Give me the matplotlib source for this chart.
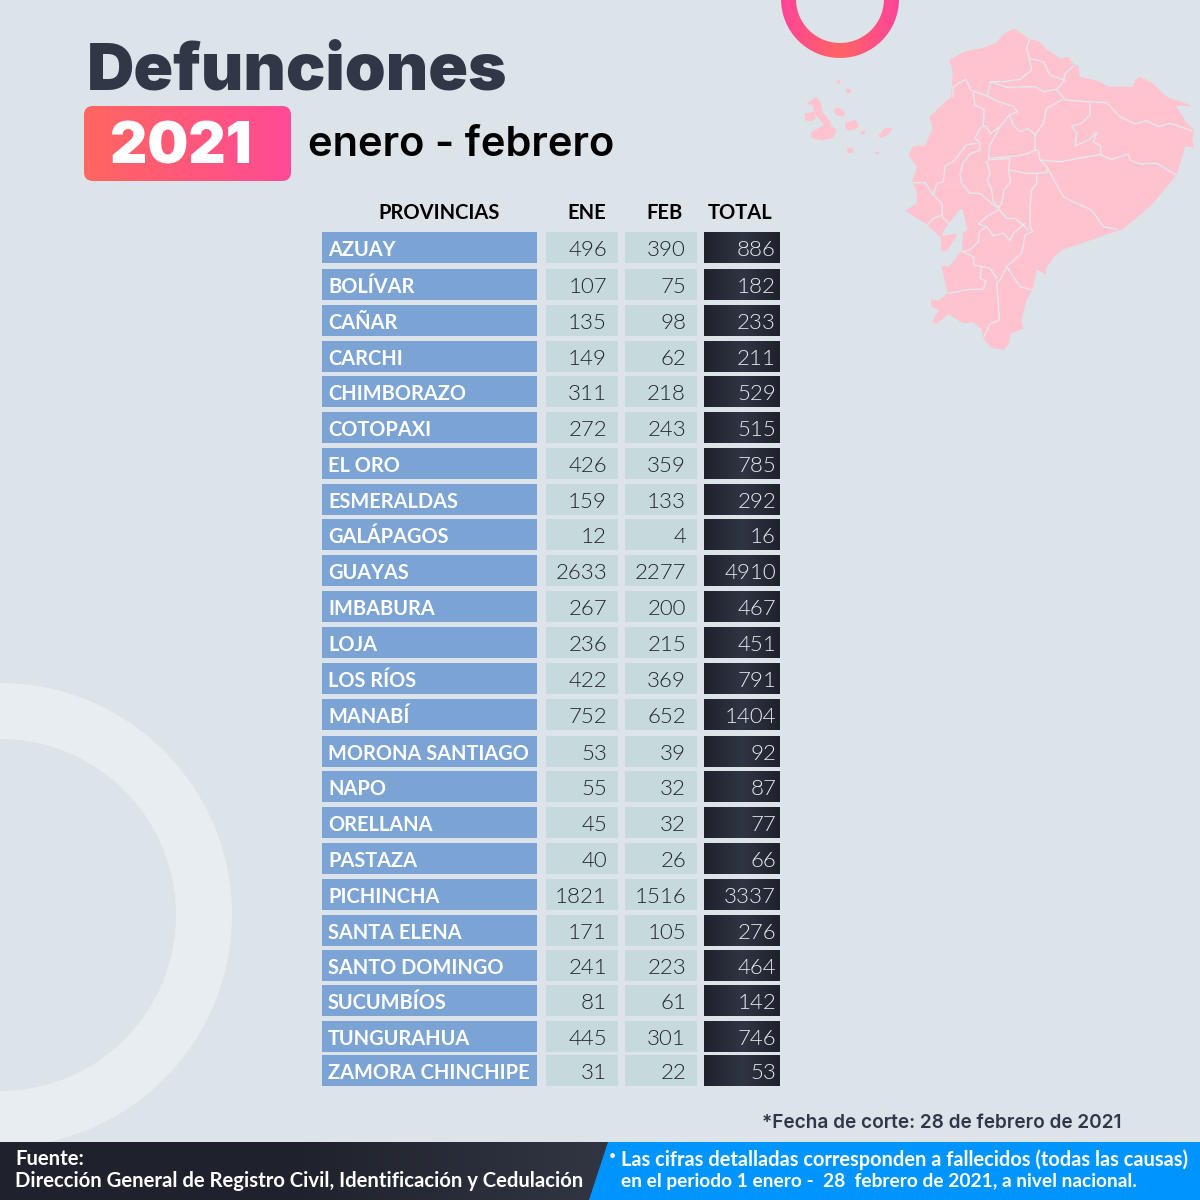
import matplotlib
matplotlib.use('Agg')
import matplotlib.pyplot as plt
import numpy as np
from matplotlib.colors import LinearSegmentedColormap
from matplotlib.patches import FancyBboxPatch, Polygon, Rectangle, Wedge

# table data
provincias = ['AZUAY', 'BOLÍVAR', 'CAÑAR', 'CARCHI', 'CHIMBORAZO', 'COTOPAXI', 'EL ORO', 'ESMERALDAS',
              'GALÁPAGOS', 'GUAYAS', 'IMBABURA', 'LOJA', 'LOS RÍOS', 'MANABÍ', 'MORONA SANTIAGO', 'NAPO',
              'ORELLANA', 'PASTAZA', 'PICHINCHA', 'SANTA ELENA', 'SANTO DOMINGO', 'SUCUMBÍOS', 'TUNGURAHUA',
              'ZAMORA CHINCHIPE']
ene = [496, 107, 135, 149, 311, 272, 426, 159, 12, 2633, 267, 236, 422, 752, 53, 55, 45, 40, 1821, 171, 241, 81, 445, 31]
feb = [390, 75, 98, 62, 218, 243, 359, 133, 4, 2277, 200, 215, 369, 652, 39, 32, 32, 26, 1516, 105, 223, 61, 301, 22]
total = [886, 182, 233, 211, 529, 515, 785, 292, 16, 4910, 467, 451, 791, 1404, 92, 87, 77, 66, 3337, 276, 464, 142, 746, 53]
encabezados = ['PROVINCIAS', 'ENE', 'FEB', 'TOTAL']

BG = '#dce3e9'
NAVY = '#303746'
FONT = 'Lato'
FONT_TIT = 'Inter'

# top of each table row, the rows in the picture are not evenly spaced
y_filas = [232, 269, 305, 341, 376, 412, 448, 484, 519, 555, 591, 627, 663, 699, 736, 771, 807, 843, 879, 915,
           950, 985, 1021, 1055]

# map outline in zoomed px (x / 3 + 780, y / 3)
contorno = [(700,88),(720,100),(745,118),(775,125),(800,150),(840,178),(865,172),(880,195),(895,200),(897,232),
            (950,243),(985,262),(1060,262),(1068,240),(1080,232),(1115,250),(1160,292),(1230,317),(1185,315),
            (1200,340),(1215,365),(1240,390),(1235,420),(1240,440),(1215,435),(1188,525),(1115,612),(1030,685),
            (845,748),(825,765),(795,805),(797,822),(770,805),(755,870),(738,900),(722,960),(728,985),(690,1000),
            (685,1030),(670,1048),(632,1040),(612,1015),(605,985),(580,965),(550,968),(505,940),(468,970),
            (458,965),(478,930),(455,918),(455,900),(475,905),(505,880),(490,815),(485,800),(510,800),(540,760),
            (548,755),(550,700),(565,690),(560,672),(548,625),(540,625),(520,650),(490,690),(482,710),(440,670),
            (405,650),(380,632),(412,610),(412,575),(398,545),(413,500),(388,465),(400,440),(437,438),(460,385),
            (450,352),(515,290),(520,215),(510,180),(560,155),(610,145),(650,130),(670,105)]
islas = [[(485,710),(530,703),(510,735),(500,750),(485,752)],
         [(83,310),(108,293),(122,310),(125,335),(150,365),(150,378),(168,390),(158,412),(125,420),(95,412),(95,398),(135,375),(105,340),(100,315)],
         [(75,342),(100,338),(105,355),(95,362),(78,360)],
         [(162,330),(175,325),(192,335),(192,348),(170,345)],
         [(198,368),(225,362),(235,375),(225,388),(205,390),(197,380)],
         [(297,408),(318,385),(335,385),(325,402),(305,412)],
         [(200,445),(215,445),(215,455),(203,455)],
         [(170,240),(176,240),(176,250),(170,250)],
         [(198,268),(210,268),(210,276),(198,276)],
         [(285,455),(295,455),(295,460),(285,460)],
         [(243,394),(251,394),(251,400),(243,400)]]
limites = [[(520,262),(535,250),(558,238),(572,270),(622,288),(655,305),(698,318),(712,335),(688,345),(660,380),(632,400),(618,378),(604,380),(584,415),(598,425),(600,450),(570,462),(548,490),(540,525),(545,550),(570,580),(600,580),(640,615),(655,620)],
           [(622,288),(632,245),(670,245),(720,238),(755,210),(748,175),(740,145),(748,120)],
           [(750,175),(790,185),(810,225),(850,240),(855,222),(880,198)],
           [(632,245),(680,262),(765,260),(790,275),(830,268),(855,240)],
           [(830,268),(855,300),(920,305),(930,305),(980,308),(1020,350),(1065,372),(1100,362),(1135,380),(1170,370),(1235,392)],
           [(930,310),(930,345),(905,370),(875,378),(890,400),(885,438),(925,420),(950,398),(940,425),(962,438),(962,465),(995,478),(1045,462),(1050,480),(1080,492),(1130,490),(1188,525)],
           [(848,298),(800,325),(790,370),(765,405),(765,450),(775,452),(780,480),(840,485),(962,463)],
           [(688,345),(700,375),(720,395),(745,385),(765,405)],
           [(660,380),(630,435),(625,475),(660,472),(710,468),(745,460),(765,450)],
           [(625,480),(690,475),(685,510),(692,545),(672,570),(665,610),(655,625),(640,605),(635,570),(622,540),(630,520),(620,485)],
           [(780,480),(800,500),(800,517),(770,520),(735,520),(700,512),(688,510)],
           [(800,500),(825,545),(850,590),(880,605),(935,630),(970,680),(1010,688)],
           [(770,525),(770,550),(755,570),(750,620),(750,680),(758,695),(735,705),(725,760),(680,800),(660,840),(650,850),(655,900),(658,960),(630,972),(612,1010)],
           [(655,625),(680,655),(705,655),(735,680),(745,690)],
           [(735,670),(700,700),(690,722),(670,700),(640,708),(620,680),(598,695),(595,725),(570,750),(548,755),(580,770),(582,795),(630,805),(650,835)],
           [(655,630),(620,650),(595,672),(618,680)],
           [(680,800),(720,860),(755,870)],
           [(505,880),(570,868),(610,868),(618,842),(600,835),(605,800)],
           [(400,548),(435,548),(460,585),(487,612),(487,645),(460,655),(445,672)],
           [(460,585),(470,550),(490,545),(495,500),(525,480),(558,435),(590,430)],
           [(580,280),(585,315),(612,328),(610,375)],
           [(487,650),(510,675)],
           [(520,262),(518,290)]]


def mapa(pts):
    return [(780 + x / 3, y / 3) for x, y in pts]


def degradado(ax, patch, colores, extent, zorder=2):
    # gradient image clipped to a patch
    cmap = LinearSegmentedColormap.from_list('g', colores)
    g = np.linspace(0, 1, 256).reshape(1, -1)
    im = ax.imshow(g, cmap=cmap, extent=extent, aspect='auto', zorder=zorder, interpolation='bilinear')
    im.set_clip_path(patch)


fig = plt.figure(figsize=(12, 12), dpi=100, facecolor=BG)
ax = fig.add_axes([0, 0, 1, 1])
ax.set_facecolor(BG)

# background rings
ax.add_patch(Wedge((0, 915), 232, 0, 360, width=56, fc='#e8edf1', ec='none', zorder=1))
anillo2 = Wedge((840, -1), 59, 0, 360, width=15, fc='none', ec='none', zorder=1)
ax.add_patch(anillo2)
degradado(ax, anillo2, ['#ff4499', '#ff6464', '#ff4499'], (781, 899, 60, -2))

# map
for pts in islas:
    ax.add_patch(Polygon(mapa(pts), fc='#fec3cf', ec='#fec3cf', lw=0.8, joinstyle='round', zorder=2))
ax.add_patch(Polygon(mapa(contorno), fc='#fec3cf', ec='#fec3cf', lw=0.8, joinstyle='round', zorder=2))
for pts in limites:
    xs, ys = zip(*mapa(pts))
    ax.plot(xs, ys, color='#e3e8ec', lw=1.0, solid_joinstyle='round', zorder=3)

# title
ax.text(87, 90, 'Defunciones', fontsize=47.2, fontweight='black', family=FONT_TIT, color=NAVY, va='baseline', zorder=5)
badge = FancyBboxPatch((92, 114), 191, 59, boxstyle='round,pad=8,rounding_size=9', fc='none', ec='none', zorder=2)
ax.add_patch(badge)
degradado(ax, badge, ['#ff6660', '#ff4a96'], (84, 291, 181, 106))
ax.text(110, 163, '2021', fontsize=41.5, fontweight='black', family=FONT_TIT, color='white', va='baseline', zorder=5)
ax.text(308, 156, 'enero - febrero', fontsize=30, fontweight='semibold', family=FONT_TIT, color='black', va='baseline', zorder=5)

# table
alto = 31
n = len(provincias)
ax.barh(y_filas, [215] * n, height=alto, left=322, align='edge', color='#7ba3d3', zorder=2)
ax.barh(y_filas, [72] * n, height=alto, left=546, align='edge', color='#c6dadb', zorder=2)
ax.barh(y_filas, [72] * n, height=alto, left=625, align='edge', color='#c6dadb', zorder=2)
barras_total = ax.barh(y_filas, [76] * n, height=alto, left=704, align='edge', color='#20232e', zorder=2)
for y, barra in zip(y_filas, barras_total):
    degradado(ax, barra, ['#1f222c', '#303543', '#1f222c'], (704, 780, y + alto, y), zorder=2.1)

for x, titulo in zip([439, 587, 664, 740], encabezados):
    ax.text(x, 213, titulo, fontsize=14.5, fontweight='bold', family=FONT, color='black', ha='center', va='center', zorder=5)

for i, y in enumerate(y_filas):
    yt = y + 24
    ax.text(328, yt, provincias[i], fontsize=14.4, fontweight='bold', family=FONT, color='white', va='baseline', zorder=5)
    ax.text(607, yt, str(ene[i]), fontsize=16, fontweight=300, family=FONT, color='#20232e', ha='right', va='baseline', zorder=5)
    ax.text(686, yt, str(feb[i]), fontsize=16, fontweight=300, family=FONT, color='#20232e', ha='right', va='baseline', zorder=5)
    ax.text(776, yt, str(total[i]), fontsize=16, fontweight=300, family=FONT, color='#e8ecf0', ha='right', va='baseline', zorder=5)

ax.text(1121, 1123, '*Fecha de corte: 28 de febrero de 2021', fontsize=13.7, fontweight='semibold', family=FONT_TIT,
        color=NAVY, ha='right', va='center', zorder=5)

# footer band
franja = Rectangle((0, 1142), 1200, 58, fc='none', ec='none')
ax.add_patch(franja)
degradado(ax, franja, ['#1f222c', '#20232d', '#313643'], (0, 610, 1200, 1142), zorder=3)
ax.add_patch(Polygon([(608, 1142), (1200, 1142), (1200, 1200), (589, 1200)], fc='#0095fe', ec='none', zorder=4))
ax.text(15, 1159, 'Fuente:', fontsize=14.6, fontweight='bold', family=FONT, color='white', va='center', zorder=5)
ax.text(15, 1181, 'Dirección General de Registro Civil, Identificación y Cedulación', fontsize=14.6, fontweight='bold',
        family=FONT, color='white', va='center', zorder=5)
ax.text(612, 1156, '•', fontsize=9, color='white', family=FONT, ha='center', va='center', zorder=5)
ax.text(621, 1160, 'Las cifras detalladas corresponden a fallecidos (todas las causas)', fontsize=14.45, fontweight='bold',
        family=FONT, color='white', va='center', zorder=5)
ax.text(621, 1181, 'en el periodo 1 enero -  28  febrero de 2021, a nivel nacional.', fontsize=13.8, fontweight='bold',
        family=FONT, color='white', va='center', zorder=5)

ax.set_xlim(0, 1200)
ax.set_ylim(1200, 0)
ax.set_aspect('auto')
ax.axis('off')

fig.savefig('out.png', dpi=100, facecolor=BG)
